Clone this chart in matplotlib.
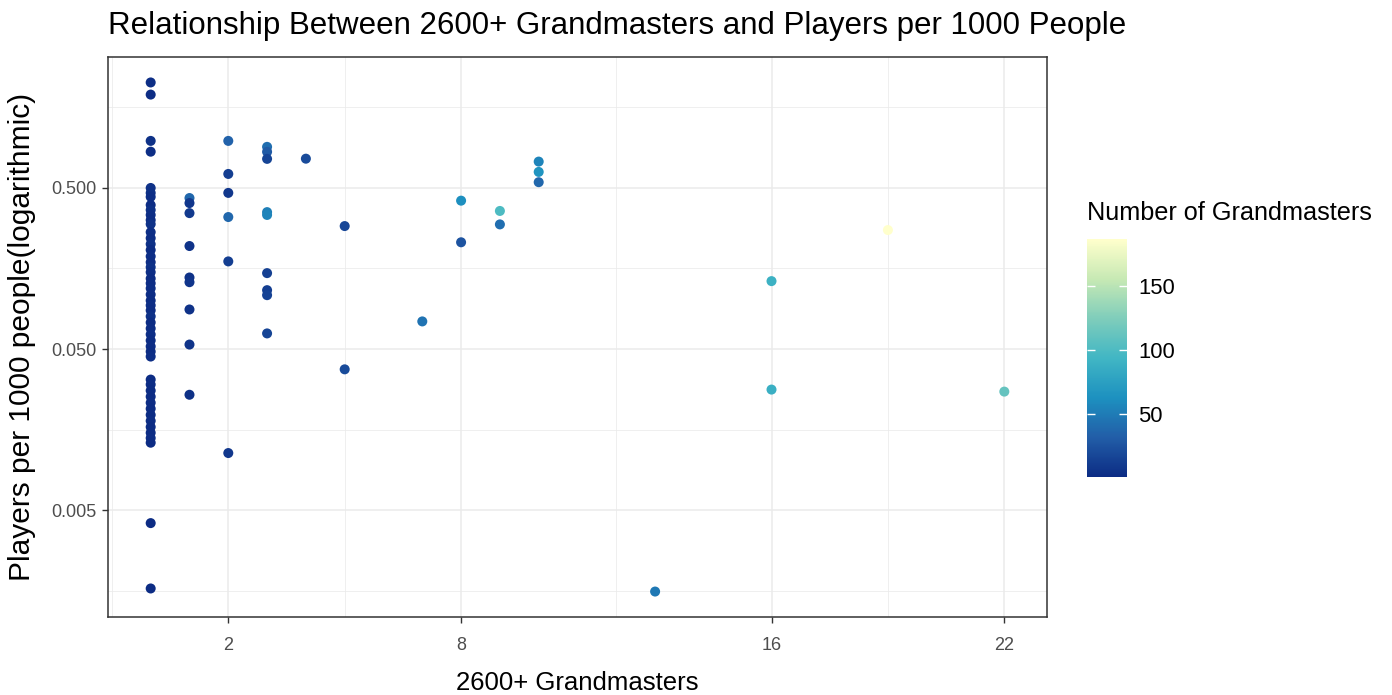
import numpy as np
import matplotlib
matplotlib.use("Agg")
import matplotlib.pyplot as plt
from matplotlib.colors import LinearSegmentedColormap, Normalize
from matplotlib.ticker import FixedLocator, FixedFormatter
import matplotlib.colorbar as mcolorbar

plt.rcParams['font.family'] = ['Liberation Sans', 'DejaVu Sans']

# ---- data ----
gm2600 = ([0] * 49 + [1] * 9 + [2] * 6 + [3] * 9 + [4] + [5] * 2 + [7] + [8] * 2
          + [9] * 2 + [10] * 3 + [13] + [16] * 2 + [19] + [22])

players_per_1000 = [
    # 0
    2.26, 1.90, 0.98, 0.84, 0.50, 0.466, 0.44, 0.392, 0.365, 0.34, 0.316, 0.298,
    0.266, 0.244, 0.224, 0.206, 0.188, 0.173, 0.161, 0.150, 0.137, 0.128, 0.119,
    0.109, 0.100, 0.0933, 0.0869, 0.0797, 0.0731, 0.0671, 0.0616, 0.0565, 0.0519,
    0.0482, 0.0449, 0.0323, 0.0301, 0.0276, 0.0253, 0.0232, 0.0213, 0.0195, 0.0179,
    0.0164, 0.0151, 0.0140, 0.0131, 0.00415, 0.00163,
    # 1
    0.433, 0.403, 0.349, 0.218, 0.139, 0.130, 0.088, 0.0533, 0.026,
    # 2
    0.98, 0.611, 0.466, 0.33, 0.175, 0.0113,
    # 3
    0.90, 0.838, 0.758, 0.354, 0.34, 0.148, 0.116, 0.108, 0.0625,
    # 4
    0.76,
    # 5
    0.29, 0.0374,
    # 7
    0.0742,
    # 8
    0.417, 0.23,
    # 9
    0.36, 0.297,
    # 10
    0.729, 0.629, 0.543,
    # 13
    0.00156,
    # 16
    0.132, 0.028,
    # 19
    0.274,
    # 22
    0.0272,
]

total_gms = [
    # 0
    3, 2, 4, 3, 5, 4, 3, 2, 4, 3, 2, 5, 3, 2, 4, 1, 3, 2, 4, 3, 1, 2, 3, 2, 1,
    3, 2, 4, 1, 2, 3, 1, 2, 1, 3, 1, 2, 1, 1, 2, 1, 1, 2, 1, 1, 2, 1, 1, 1,
    # 1
    38, 8, 10, 6, 5, 7, 5, 6, 4,
    # 2
    35, 12, 8, 38, 12, 8,
    # 3
    42, 30, 16, 52, 55, 14, 12, 15, 16,
    # 4
    20,
    # 5
    18, 20,
    # 7
    45,
    # 8
    62, 25,
    # 9
    100, 42,
    # 10
    55, 65, 38,
    # 13
    48,
    # 16
    90, 88,
    # 19
    187,
    # 22
    112,
]

x_breaks = [2, 8, 16, 22]
y_breaks = [0.005, 0.05, 0.5]
y_labels = ["0.005", "0.050", "0.500"]
cbar_breaks = [50, 100, 150]

title = "Relationship Between 2600+ Grandmasters and Players per 1000 People"
xlabel = "2600+ Grandmasters"
ylabel = "Players per 1000 people(logarithmic)"
legend_title = "Number of Grandmasters"

# ---- colormap (ColorBrewer YlGnBu, low = dark) ----
ylgnbu7 = ["#0C2C84", "#225EA8", "#1D91C0", "#41B6C4", "#7FCDBB", "#C7E9B4", "#FFFFCC"]
cmap = LinearSegmentedColormap.from_list("ylgnbu_rev", ylgnbu7)
norm = Normalize(vmin=min(total_gms), vmax=max(total_gms))

W, H = 1392, 695
fig = plt.figure(figsize=(W / 100, H / 100), dpi=100)
ax = fig.add_axes([108 / W, 1 - 617 / H, (1047 - 108) / W, (617 - 57) / H])

ax.scatter(gm2600, players_per_1000, c=total_gms, cmap=cmap, norm=norm,
           s=52, linewidths=0, zorder=3)

ax.set_yscale('log')
xmin, xmax = min(gm2600), max(gm2600)
xr = xmax - xmin
ax.set_xlim(xmin - 0.05 * xr, xmax + 0.05 * xr)
ly = np.log10(players_per_1000)
lr = ly.max() - ly.min()
ax.set_ylim(10 ** (ly.min() - 0.05 * lr), 10 ** (ly.max() + 0.05 * lr))

ax.xaxis.set_major_locator(FixedLocator(x_breaks))
ax.xaxis.set_minor_locator(FixedLocator([-1, 5, 12, 19]))
ax.yaxis.set_major_locator(FixedLocator(y_breaks))
ax.yaxis.set_major_formatter(FixedFormatter(y_labels))
ax.yaxis.set_minor_locator(FixedLocator([0.005 / np.sqrt(10), 0.05 / np.sqrt(10),
                                         0.5 / np.sqrt(10), 5 / np.sqrt(10)]))
ax.yaxis.set_minor_formatter(FixedFormatter([""] * 4))
ax.xaxis.set_minor_formatter(FixedFormatter([""] * 4))

ax.grid(True, which='major', color='#ebebeb', linewidth=1.1, zorder=0)
ax.grid(True, which='minor', color='#ebebeb', linewidth=0.55, zorder=0)
ax.set_axisbelow(True)

for sp in ax.spines.values():
    sp.set_color('#333333')
    sp.set_linewidth(1.1)

ax.tick_params(which='major', direction='out', length=4, width=1.0, color='#333333',
               labelsize=13, labelcolor='#4d4d4d')
ax.tick_params(axis='x', which='major', pad=10.5)
ax.tick_params(axis='y', which='major', pad=4)
ax.tick_params(which='minor', length=0)

ax.set_xlabel(xlabel, fontsize=18.5, color='black', labelpad=12)
ax.set_ylabel(ylabel, fontsize=21.5, color='black', labelpad=11)
fig.text(108 / W, 1 - 26 / H, title, fontsize=22.5, ha='left', va='center', color='black')

# ---- colorbar ----
cax = fig.add_axes([1087 / W, 1 - 477 / H, 40 / W, 238 / H])
cb = mcolorbar.ColorbarBase(cax, cmap=cmap, norm=norm, orientation='vertical')
cb.outline.set_visible(False)
cb.set_ticks(cbar_breaks)
cax.tick_params(which='major', direction='in', left=True, right=True, color='white',
                length=6, width=1.0, labelsize=15.8, labelcolor='black', pad=8)
cax.tick_params(which='minor', length=0)
fig.text(1087 / W, 1 - 213 / H, legend_title, fontsize=18.2, ha='left', va='center')

fig.savefig("out.png", dpi=100)
